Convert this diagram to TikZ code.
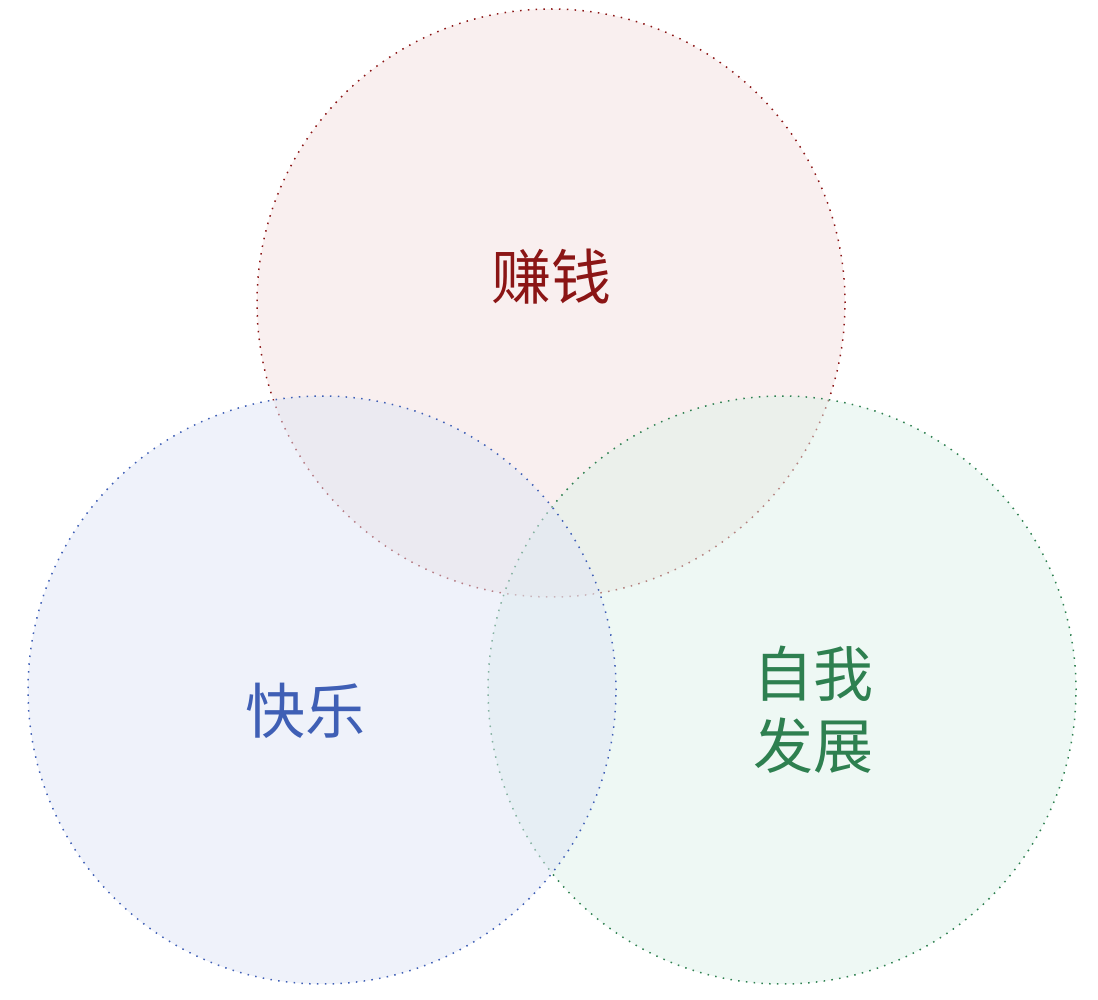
\documentclass[tikz,border=0pt]{standalone}
\usepackage{fontspec}
\setmainfont{Noto Sans CJK SC}
\definecolor{moneyred}{RGB}{139,21,21}
\definecolor{moneyfill}{RGB}{243,223,223}
\definecolor{joyblue}{RGB}{63,95,181}
\definecolor{joyfill}{RGB}{223,229,245}
\definecolor{growgreen}{RGB}{46,128,80}
\definecolor{growfill}{RGB}{221,241,233}
\tikzset{
  venn/.style={
    line width=1.5pt,
    dash pattern=on 1.5pt off 6.3pt,
    fill opacity=0.5,
  },
  label text/.style={
    font=\fontsize{60}{72}\selectfont,
    align=center,
    inner sep=0pt,
  }
}

\begin{document}
\begin{tikzpicture}[x=1pt,y=-1pt]
    \useasboundingbox (0,0) rectangle (1098,1000);
    % circles, drawn in order top, right, left
    \draw[venn,draw=moneyred,fill=moneyfill] (551,303) circle (294pt);
    \draw[venn,draw=growgreen,fill=growfill] (782,690) circle (294pt);
    \draw[venn,draw=joyblue,fill=joyfill] (322,690) circle (294pt);
    % labels
    \node[label text,text=moneyred] (money) at (551,277) {赚钱};
    \node[label text,text=joyblue] (joy) at (305,711) {快乐};
    \node[label text,text=growgreen] (grow) at (813,710) {自我\\发展};
\end{tikzpicture}
\end{document}
